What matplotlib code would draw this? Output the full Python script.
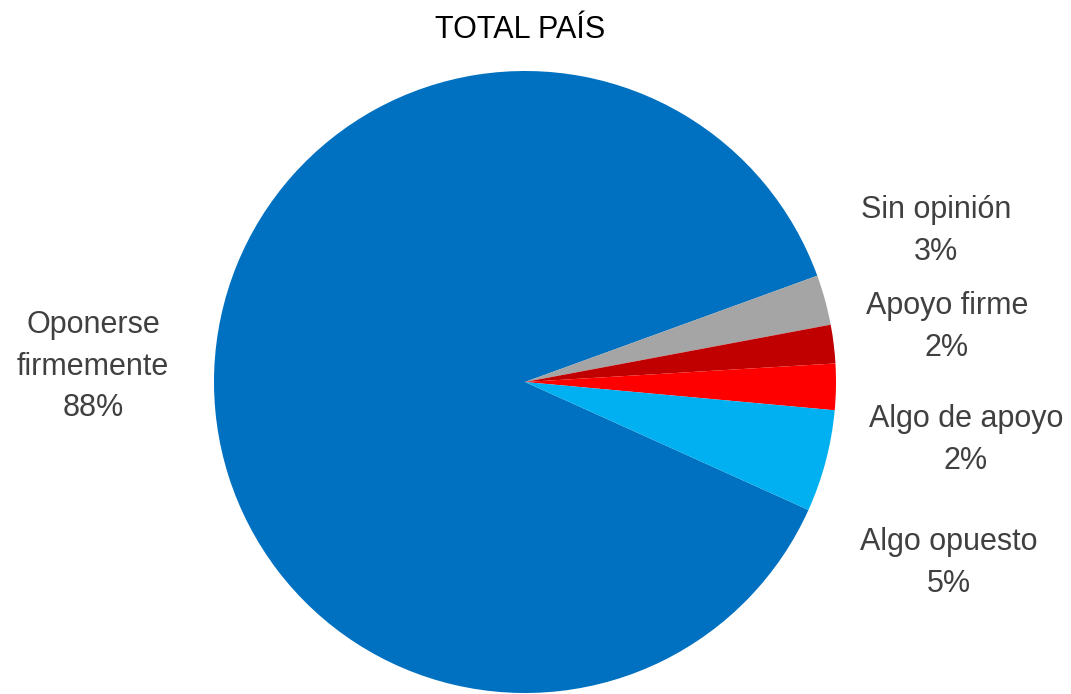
import matplotlib
matplotlib.use("Agg")
import matplotlib.pyplot as plt
from matplotlib import font_manager

names = {f.name for f in font_manager.fontManager.ttflist}
fam = [n for n in ["Liberation Sans Narrow", "Liberation Sans", "DejaVu Sans"] if n in names]
plt.rcParams['font.family'] = fam

categories = ["Oponerse\nfirmemente", "Sin opinión", "Apoyo firme", "Algo de apoyo", "Algo opuesto"]
values = [87.7, 2.6, 2.0, 2.4, 5.3]
colors = ["#0070C0", "#A5A5A5", "#C00000", "#FF0000", "#00B0F0"]
title = "TOTAL PAÍS"

W, H = 1071, 694
fig = plt.figure(figsize=(W / 100, H / 100), dpi=100)
cx, cy, r = 525, 382, 311
ax = fig.add_axes([(cx - r) / W, (H - cy - r) / H, 2 * r / W, 2 * r / H])
ax.axis("off")

ax.pie(values, colors=colors, startangle=-24.3, counterclock=False, radius=1.0,
       center=(0, 0), wedgeprops=dict(linewidth=0))
ax.set_xlim(-1, 1)
ax.set_ylim(-1, 1)

total = sum(values)
label_pos = [(93, 367), (936, 231), (947, 327), (966, 440), (949, 563)]
for cat, v, (px, py) in zip(categories, values, label_pos):
    ax.text((px - cx) / r, (cy - py) / r, f"{cat}\n{round(v / total * 100):.0f}%",
            ha="center", va="center", fontsize=22, color="#404040",
            linespacing=1.5, clip_on=False)

fig.text(520 / W, 1 - 30 / H, title, ha="center", va="center", fontsize=22, color="black")

fig.savefig("out.png", dpi=100, facecolor="white")
